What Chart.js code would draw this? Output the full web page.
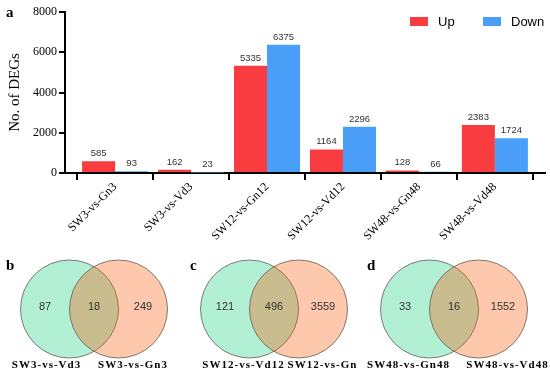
<!DOCTYPE html>
<html><head><meta charset="utf-8">
<script src="https://cdn.jsdelivr.net/npm/chart.js@4"></script>
<style>
html,body{margin:0;padding:0;background:#fff;}
#wrap{position:relative;width:550px;height:374px;overflow:hidden;background:#fff;}
canvas{position:absolute;}
</style></head>
<body>
<div id="wrap">
<canvas id="bar" width="550" height="248" style="left:0;top:0"></canvas>
<canvas id="v0" width="190" height="124" style="left:-1px;top:250px"></canvas>
<canvas id="v1" width="190" height="124" style="left:179px;top:250px"></canvas>
<canvas id="v2" width="190" height="124" style="left:359px;top:250px"></canvas>
</div>
<script>
// ---- data ----
const categories = ['SW3-vs-Gn3','SW3-vs-Vd3','SW12-vs-Gn12','SW12-vs-Vd12','SW48-vs-Gn48','SW48-vs-Vd48'];
const upValues   = [585, 162, 5335, 1164, 128, 2383];
const downValues = [93, 23, 6375, 2296, 66, 1724];
const seriesNames = ['Up','Down'];
const yTicks = [0, 2000, 4000, 6000, 8000];

const vennLetters = ['b','c','d'];
const vennSetNames = [['SW3-vs-Vd3','SW3-vs-Gn3'],['SW12-vs-Vd12','SW12-vs-Gn'],['SW48-vs-Gn48','SW48-vs-Vd48']];
const vennCounts = [[87,18,249],[121,496,3559],[33,16,1552]];

// ---- styles ----
const RED = '#f83c3f', BLUE = '#4a9ef8';
const SERIF = '"Liberation Serif","Times New Roman",serif';
const SANS = '"Liberation Sans",Arial,sans-serif';
Chart.defaults.devicePixelRatio = 1;

const barLabels = {
  id:'barLabels',
  afterDatasetsDraw(chart){
    const ctx = chart.ctx;
    ctx.save();
    ctx.font = '9.5px ' + SANS;
    ctx.fillStyle = '#333';
    ctx.textAlign = 'center';
    ctx.textBaseline = 'bottom';
    chart.data.datasets.forEach((ds, di) => {
      chart.getDatasetMeta(di).data.forEach((el, i) => {
        ctx.fillText(String(ds.data[i].y), el.x, el.y - 3);
      });
    });
    // panel letter
    ctx.font = 'bold 15px ' + SERIF;
    ctx.fillStyle = '#000';
    ctx.textAlign = 'left';
    ctx.textBaseline = 'middle';
    ctx.fillText('a', 6, 13);
    // legend
    const a = chart.chartArea;
    ctx.font = '13px ' + SANS;
    let x = a.right - 135;
    chart.data.datasets.forEach((ds) => {
      ctx.fillStyle = ds.backgroundColor;
      ctx.fillRect(x, 17, 18, 9);
      ctx.fillStyle = '#000';
      ctx.fillText(ds.label, x + 28, 22);
      x += 73;
    });
    ctx.restore();
  }
};

new Chart(document.getElementById('bar'), {
  type:'bar',
  data:{
    datasets:[
      {label:seriesNames[0], data:upValues.map((v,i)=>({x:i,y:v})), backgroundColor:RED},
      {label:seriesNames[1], data:downValues.map((v,i)=>({x:i,y:v})), backgroundColor:BLUE}
    ]
  },
  options:{
    responsive:false, animation:false, events:[],
    layout:{padding:{left:0,right:5,top:12,bottom:0}},
    datasets:{bar:{barPercentage:1, categoryPercentage:0.87}},
    plugins:{legend:{display:false}, tooltip:{enabled:false}},
    scales:{
      x:{
        type:'linear', min:-0.66, max:categories.length-1+0.66, offset:false,
        grid:{display:true, drawOnChartArea:false, drawTicks:true, tickLength:7, color:'#000', lineWidth:2},
        border:{display:true, color:'#000', width:2},
        ticks:{stepSize:1, includeBounds:false, autoSkip:false, minRotation:45, maxRotation:45,
          padding:0, color:'#000', font:{family:SERIF, size:12},
          callback:(v)=> Number.isInteger(v) ? categories[v] : ''},
        afterFit:(s)=>{ s.height = 75; }
      },
      y:{
        min:yTicks[0], max:yTicks[yTicks.length-1],
        afterBuildTicks:(s)=>{ s.ticks = yTicks.map(v=>({value:v})); },
        grid:{display:true, drawOnChartArea:false, drawTicks:true, tickLength:6, color:'#000', lineWidth:2},
        border:{display:true, color:'#000', width:2},
        ticks:{padding:2, color:'#000', font:{family:SERIF, size:12}, callback:(v)=>String(v)},
        title:{display:true, text:'No. of DEGs', color:'#000', font:{family:SERIF, size:15}, padding:{top:6,bottom:0}},
        afterFit:(s)=>{ s.width = 65; }
      }
    }
  },
  plugins:[barLabels]
});

// ---- Venn diagrams ----
const vennR = 49, vennHalfDist = 24.5;
const vennLabelX = [[-47.5,39],[-30.5,48.5],[-45.5,53.5]];
const vennLetterX = [7, 11, 8];

const vennText = {
  id:'vennText',
  afterDatasetsDraw(chart){
    const p = chart.options.plugins.vennText;
    const ctx = chart.ctx, xs = chart.scales.x, ys = chart.scales.y;
    ctx.save();
    ctx.font = '11px ' + SANS;
    ctx.fillStyle = '#333';
    ctx.textAlign = 'center';
    ctx.textBaseline = 'middle';
    const cx = [-2*vennHalfDist, 0, 2*vennHalfDist];
    p.counts.forEach((c,i)=> ctx.fillText(String(c), xs.getPixelForValue(cx[i]), ys.getPixelForValue(2)));
    ctx.font = 'bold 11px ' + SERIF;
    ctx.letterSpacing = '1px';
    ctx.fillStyle = '#000';
    p.names.forEach((n,i)=> ctx.fillText(n, xs.getPixelForValue(p.labelX[i]), ys.getPixelForValue(-56)));
    ctx.letterSpacing = '0px';
    ctx.font = 'bold 15px ' + SERIF;
    ctx.textAlign = 'left';
    ctx.fillText(p.letter, p.letterX, 16);
    ctx.restore();
  }
};

vennCounts.forEach((counts, k) => {
  new Chart(document.getElementById('v'+k), {
    type:'bubble',
    data:{datasets:[
      {label:vennSetNames[k][1], data:[{x:vennHalfDist, y:0, r:vennR}],
       backgroundColor:'rgba(249,88,0,0.33)', borderColor:'rgba(110,100,90,0.85)', borderWidth:1},
      {label:vennSetNames[k][0], data:[{x:-vennHalfDist, y:0, r:vennR}],
       backgroundColor:'rgba(101,225,173,0.5)', borderColor:'rgba(110,100,90,0.85)', borderWidth:1}
    ]},
    options:{
      responsive:false, animation:false, events:[],
      layout:{padding:0, autoPadding:false},
      plugins:{legend:{display:false}, tooltip:{enabled:false},
        vennText:{counts:counts, names:vennSetNames[k], labelX:vennLabelX[k], letter:vennLetters[k], letterX:vennLetterX[k]}},
      scales:{
        x:{type:'linear', min:-95, max:95, display:false},
        y:{type:'linear', min:-65, max:59, display:false}
      }
    },
    plugins:[vennText]
  });
});
</script>
</body></html>
